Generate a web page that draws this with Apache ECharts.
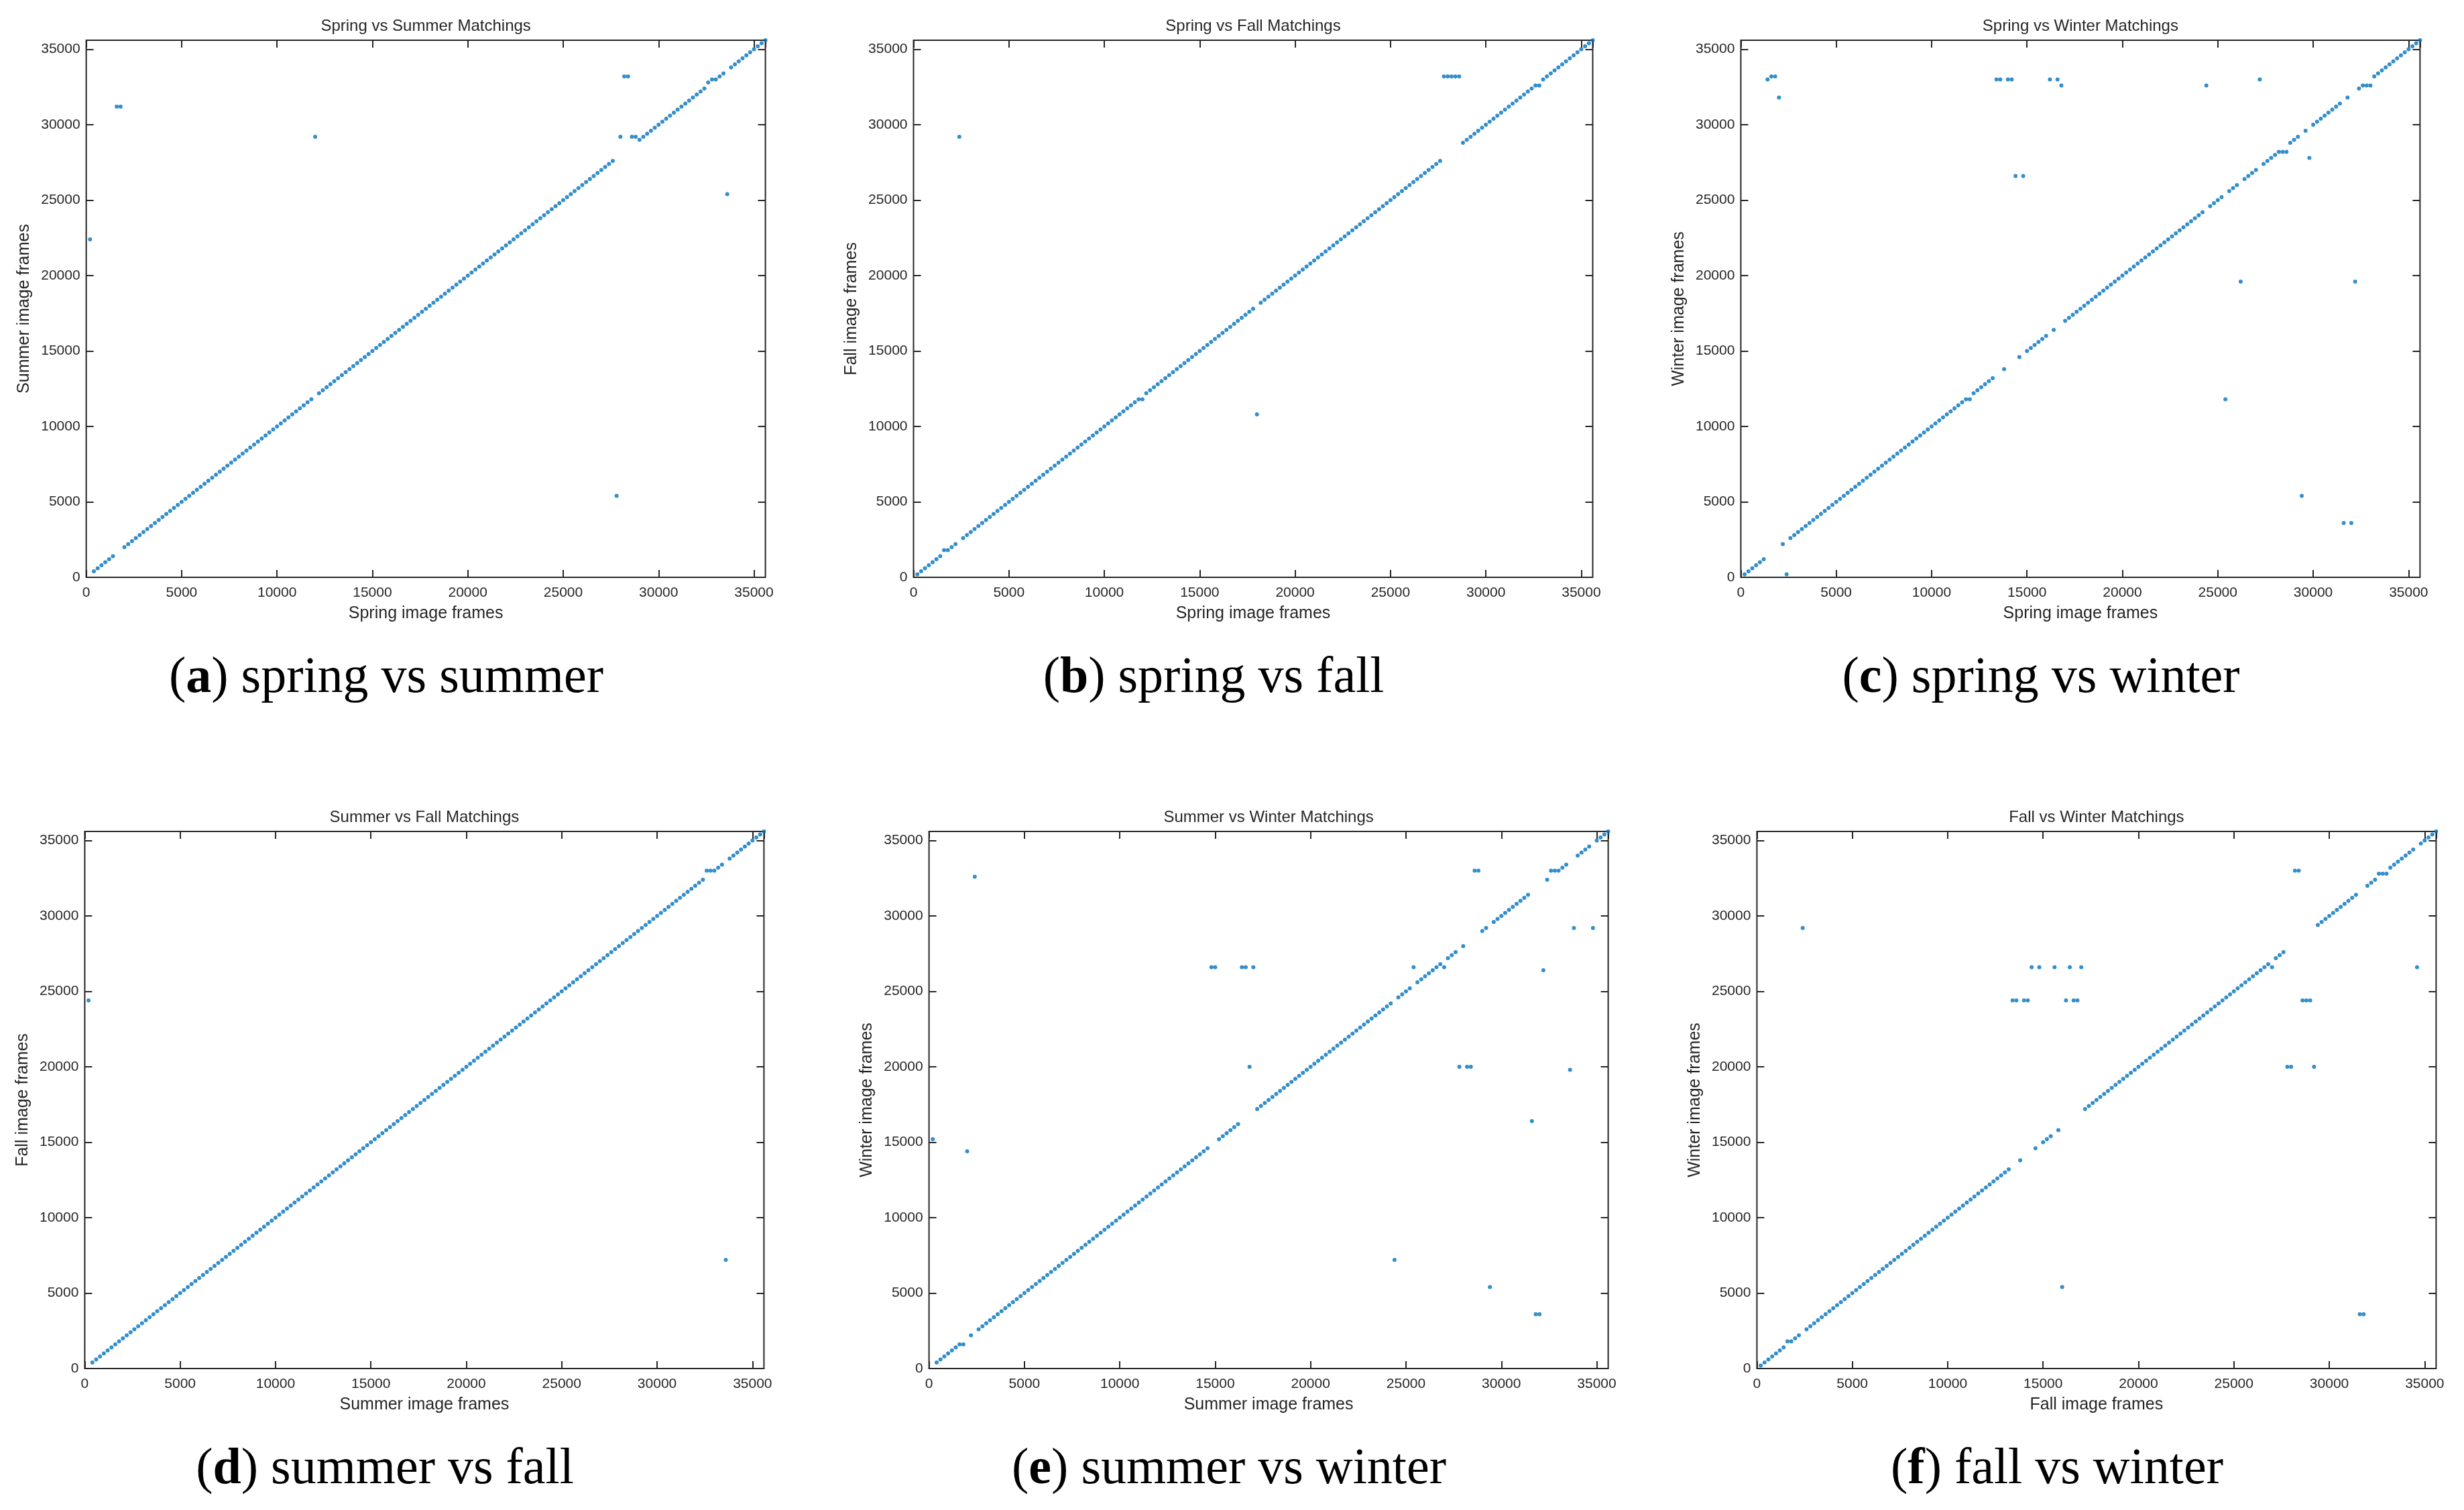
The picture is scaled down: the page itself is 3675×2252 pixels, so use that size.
<!DOCTYPE html>
<html>
<head>
<meta charset="utf-8">
<script src="https://cdn.jsdelivr.net/npm/echarts@6/dist/echarts.min.js"></script>
<style>
  html, body { margin: 0; padding: 0; background: #fff; }
  #chart { width: 3675px; height: 2252px; }
</style>
</head>
<body>
<div id="chart"></div>
<script>
// query frames (one match every 200 frames)
const frames = [
  200, 400, 600, 800, 1000, 1200, 1400, 1600, 1800, 2000,
  2200, 2400, 2600, 2800, 3000, 3200, 3400, 3600, 3800, 4000,
  4200, 4400, 4600, 4800, 5000, 5200, 5400, 5600, 5800, 6000,
  6200, 6400, 6600, 6800, 7000, 7200, 7400, 7600, 7800, 8000,
  8200, 8400, 8600, 8800, 9000, 9200, 9400, 9600, 9800, 10000,
  10200, 10400, 10600, 10800, 11000, 11200, 11400, 11600, 11800, 12000,
  12200, 12400, 12600, 12800, 13000, 13200, 13400, 13600, 13800, 14000,
  14200, 14400, 14600, 14800, 15000, 15200, 15400, 15600, 15800, 16000,
  16200, 16400, 16600, 16800, 17000, 17200, 17400, 17600, 17800, 18000,
  18200, 18400, 18600, 18800, 19000, 19200, 19400, 19600, 19800, 20000,
  20200, 20400, 20600, 20800, 21000, 21200, 21400, 21600, 21800, 22000,
  22200, 22400, 22600, 22800, 23000, 23200, 23400, 23600, 23800, 24000,
  24200, 24400, 24600, 24800, 25000, 25200, 25400, 25600, 25800, 26000,
  26200, 26400, 26600, 26800, 27000, 27200, 27400, 27600, 27800, 28000,
  28200, 28400, 28600, 28800, 29000, 29200, 29400, 29600, 29800, 30000,
  30200, 30400, 30600, 30800, 31000, 31200, 31400, 31600, 31800, 32000,
  32200, 32400, 32600, 32800, 33000, 33200, 33400, 33600, 33800, 34000,
  34200, 34400, 34600, 34800, 35000, 35200, 35400, 35600
]

// matched frame for each query frame
const springSummer = [
  22400, 400, 600, 800, 1000, 1200, 1400, 31200, 31200, 2000,
  2200, 2400, 2600, 2800, 3000, 3200, 3400, 3600, 3800, 4000,
  4200, 4400, 4600, 4800, 5000, 5200, 5400, 5600, 5800, 6000,
  6200, 6400, 6600, 6800, 7000, 7200, 7400, 7600, 7800, 8000,
  8200, 8400, 8600, 8800, 9000, 9200, 9400, 9600, 9800, 10000,
  10200, 10400, 10600, 10800, 11000, 11200, 11400, 11600, 11800, 29200,
  12200, 12400, 12600, 12800, 13000, 13200, 13400, 13600, 13800, 14000,
  14200, 14400, 14600, 14800, 15000, 15200, 15400, 15600, 15800, 16000,
  16200, 16400, 16600, 16800, 17000, 17200, 17400, 17600, 17800, 18000,
  18200, 18400, 18600, 18800, 19000, 19200, 19400, 19600, 19800, 20000,
  20200, 20400, 20600, 20800, 21000, 21200, 21400, 21600, 21800, 22000,
  22200, 22400, 22600, 22800, 23000, 23200, 23400, 23600, 23800, 24000,
  24200, 24400, 24600, 24800, 25000, 25200, 25400, 25600, 25800, 26000,
  26200, 26400, 26600, 26800, 27000, 27200, 27400, 27600, 5400, 29200,
  33200, 33200, 29200, 29200, 29000, 29200, 29400, 29600, 29800, 30000,
  30200, 30400, 30600, 30800, 31000, 31200, 31400, 31600, 31800, 32000,
  32200, 32400, 32800, 33000, 33000, 33200, 33400, 25400, 33800, 34000,
  34200, 34400, 34600, 34800, 35000, 35200, 35400, 35600
]

const springFall = [
  200, 400, 600, 800, 1000, 1200, 1400, 1800, 1800, 2000,
  2200, 29200, 2600, 2800, 3000, 3200, 3400, 3600, 3800, 4000,
  4200, 4400, 4600, 4800, 5000, 5200, 5400, 5600, 5800, 6000,
  6200, 6400, 6600, 6800, 7000, 7200, 7400, 7600, 7800, 8000,
  8200, 8400, 8600, 8800, 9000, 9200, 9400, 9600, 9800, 10000,
  10200, 10400, 10600, 10800, 11000, 11200, 11400, 11600, 11800, 11800,
  12200, 12400, 12600, 12800, 13000, 13200, 13400, 13600, 13800, 14000,
  14200, 14400, 14600, 14800, 15000, 15200, 15400, 15600, 15800, 16000,
  16200, 16400, 16600, 16800, 17000, 17200, 17400, 17600, 17800, 10800,
  18200, 18400, 18600, 18800, 19000, 19200, 19400, 19600, 19800, 20000,
  20200, 20400, 20600, 20800, 21000, 21200, 21400, 21600, 21800, 22000,
  22200, 22400, 22600, 22800, 23000, 23200, 23400, 23600, 23800, 24000,
  24200, 24400, 24600, 24800, 25000, 25200, 25400, 25600, 25800, 26000,
  26200, 26400, 26600, 26800, 27000, 27200, 27400, 27600, 33200, 33200,
  33200, 33200, 33200, 28800, 29000, 29200, 29400, 29600, 29800, 30000,
  30200, 30400, 30600, 30800, 31000, 31200, 31400, 31600, 31800, 32000,
  32200, 32400, 32600, 32600, 33000, 33200, 33400, 33600, 33800, 34000,
  34200, 34400, 34600, 34800, 35000, 35200, 35400, 35600
]

const springWinter = [
  200, 400, 600, 800, 1000, 1200, 33000, 33200, 33200, 31800,
  2200, 200, 2600, 2800, 3000, 3200, 3400, 3600, 3800, 4000,
  4200, 4400, 4600, 4800, 5000, 5200, 5400, 5600, 5800, 6000,
  6200, 6400, 6600, 6800, 7000, 7200, 7400, 7600, 7800, 8000,
  8200, 8400, 8600, 8800, 9000, 9200, 9400, 9600, 9800, 10000,
  10200, 10400, 10600, 10800, 11000, 11200, 11400, 11600, 11800, 11800,
  12200, 12400, 12600, 12800, 13000, 13200, 33000, 33000, 13800, 33000,
  33000, 26600, 14600, 26600, 15000, 15200, 15400, 15600, 15800, 16000,
  33000, 16400, 33000, 32600, 17000, 17200, 17400, 17600, 17800, 18000,
  18200, 18400, 18600, 18800, 19000, 19200, 19400, 19600, 19800, 20000,
  20200, 20400, 20600, 20800, 21000, 21200, 21400, 21600, 21800, 22000,
  22200, 22400, 22600, 22800, 23000, 23200, 23400, 23600, 23800, 24000,
  24200, 32600, 24600, 24800, 25000, 25200, 11800, 25600, 25800, 26000,
  19600, 26400, 26600, 26800, 27000, 33000, 27400, 27600, 27800, 28000,
  28200, 28200, 28200, 28800, 29000, 29200, 5400, 29600, 27800, 30000,
  30200, 30400, 30600, 30800, 31000, 31200, 31400, 3600, 31800, 3600,
  19600, 32400, 32600, 32600, 32600, 33200, 33400, 33600, 33800, 34000,
  34200, 34400, 34600, 34800, 35000, 35200, 35400, 35600
]

const summerFall = [
  24400, 400, 600, 800, 1000, 1200, 1400, 1600, 1800, 2000,
  2200, 2400, 2600, 2800, 3000, 3200, 3400, 3600, 3800, 4000,
  4200, 4400, 4600, 4800, 5000, 5200, 5400, 5600, 5800, 6000,
  6200, 6400, 6600, 6800, 7000, 7200, 7400, 7600, 7800, 8000,
  8200, 8400, 8600, 8800, 9000, 9200, 9400, 9600, 9800, 10000,
  10200, 10400, 10600, 10800, 11000, 11200, 11400, 11600, 11800, 12000,
  12200, 12400, 12600, 12800, 13000, 13200, 13400, 13600, 13800, 14000,
  14200, 14400, 14600, 14800, 15000, 15200, 15400, 15600, 15800, 16000,
  16200, 16400, 16600, 16800, 17000, 17200, 17400, 17600, 17800, 18000,
  18200, 18400, 18600, 18800, 19000, 19200, 19400, 19600, 19800, 20000,
  20200, 20400, 20600, 20800, 21000, 21200, 21400, 21600, 21800, 22000,
  22200, 22400, 22600, 22800, 23000, 23200, 23400, 23600, 23800, 24000,
  24200, 24400, 24600, 24800, 25000, 25200, 25400, 25600, 25800, 26000,
  26200, 26400, 26600, 26800, 27000, 27200, 27400, 27600, 27800, 28000,
  28200, 28400, 28600, 28800, 29000, 29200, 29400, 29600, 29800, 30000,
  30200, 30400, 30600, 30800, 31000, 31200, 31400, 31600, 31800, 32000,
  32200, 32400, 33000, 33000, 33000, 33200, 33400, 7200, 33800, 34000,
  34200, 34400, 34600, 34800, 35000, 35200, 35400, 35600
]

const summerWinter = [
  15200, 400, 600, 800, 1000, 1200, 1400, 1600, 1600, 14400,
  2200, 32600, 2600, 2800, 3000, 3200, 3400, 3600, 3800, 4000,
  4200, 4400, 4600, 4800, 5000, 5200, 5400, 5600, 5800, 6000,
  6200, 6400, 6600, 6800, 7000, 7200, 7400, 7600, 7800, 8000,
  8200, 8400, 8600, 8800, 9000, 9200, 9400, 9600, 9800, 10000,
  10200, 10400, 10600, 10800, 11000, 11200, 11400, 11600, 11800, 12000,
  12200, 12400, 12600, 12800, 13000, 13200, 13400, 13600, 13800, 14000,
  14200, 14400, 14600, 26600, 26600, 15200, 15400, 15600, 15800, 16000,
  16200, 26600, 26600, 20000, 26600, 17200, 17400, 17600, 17800, 18000,
  18200, 18400, 18600, 18800, 19000, 19200, 19400, 19600, 19800, 20000,
  20200, 20400, 20600, 20800, 21000, 21200, 21400, 21600, 21800, 22000,
  22200, 22400, 22600, 22800, 23000, 23200, 23400, 23600, 23800, 24000,
  24200, 7200, 24600, 24800, 25000, 25200, 26600, 25600, 25800, 26000,
  26200, 26400, 26600, 26800, 26600, 27200, 27400, 27600, 20000, 28000,
  20000, 20000, 33000, 33000, 29000, 29200, 5400, 29600, 29800, 30000,
  30200, 30400, 30600, 30800, 31000, 31200, 31400, 16400, 3600, 3600,
  26400, 32400, 33000, 33000, 33000, 33200, 33400, 19800, 29200, 34000,
  34200, 34400, 34600, 29200, 35000, 35200, 35400, 35600
]

const fallWinter = [
  200, 400, 600, 800, 1000, 1200, 1400, 1800, 1800, 2000,
  2200, 29200, 2600, 2800, 3000, 3200, 3400, 3600, 3800, 4000,
  4200, 4400, 4600, 4800, 5000, 5200, 5400, 5600, 5800, 6000,
  6200, 6400, 6600, 6800, 7000, 7200, 7400, 7600, 7800, 8000,
  8200, 8400, 8600, 8800, 9000, 9200, 9400, 9600, 9800, 10000,
  10200, 10400, 10600, 10800, 11000, 11200, 11400, 11600, 11800, 12000,
  12200, 12400, 12600, 12800, 13000, 13200, 24400, 24400, 13800, 24400,
  24400, 26600, 14600, 26600, 15000, 15200, 15400, 26600, 15800, 5400,
  24400, 26600, 24400, 24400, 26600, 17200, 17400, 17600, 17800, 18000,
  18200, 18400, 18600, 18800, 19000, 19200, 19400, 19600, 19800, 20000,
  20200, 20400, 20600, 20800, 21000, 21200, 21400, 21600, 21800, 22000,
  22200, 22400, 22600, 22800, 23000, 23200, 23400, 23600, 23800, 24000,
  24200, 24400, 24600, 24800, 25000, 25200, 25400, 25600, 25800, 26000,
  26200, 26400, 26600, 26800, 26600, 27200, 27400, 27600, 20000, 20000,
  33000, 33000, 24400, 24400, 24400, 20000, 29400, 29600, 29800, 30000,
  30200, 30400, 30600, 30800, 31000, 31200, 31400, 3600, 3600, 32000,
  32200, 32400, 32800, 32800, 32800, 33200, 33400, 33600, 33800, 34000,
  34200, 34400, 26600, 34800, 35000, 35200, 35400, 35600
]

const matches = [springSummer, springFall, springWinter, summerFall, summerWinter, fallWinter]
const panelTitles = ['Spring vs Summer Matchings', 'Spring vs Fall Matchings', 'Spring vs Winter Matchings',
  'Summer vs Fall Matchings', 'Summer vs Winter Matchings', 'Fall vs Winter Matchings']
const xNames = ['Spring image frames', 'Spring image frames', 'Spring image frames',
  'Summer image frames', 'Summer image frames', 'Fall image frames']
const yNames = ['Summer image frames', 'Fall image frames', 'Winter image frames',
  'Fall image frames', 'Winter image frames', 'Winter image frames']
const captionLetters = ['a', 'b', 'c', 'd', 'e', 'f']
const captionTexts = ['spring vs summer', 'spring vs fall', 'spring vs winter',
  'summer vs fall', 'summer vs winter', 'fall vs winter']
const axisMax = 35600
const tickStep = 5000

// layout (px)
const panelPos = [[128.6, 60], [1362.5, 60], [2596.4, 60], [126.4, 1240], [1385.6, 1240], [2620.4, 1240]]
const panelW = 1013, panelH = 801
const captionPos = [[576, 1012], [1810, 1012], [3044, 1012], [574, 2192], [1833, 2192], [3068, 2192]]

const ink = '#262626'
const sans = 'Liberation Sans, Arial, sans-serif'
const serif = 'Liberation Serif, Times New Roman, serif'

const chart = echarts.init(document.getElementById('chart'))

const grid = [], xAxis = [], yAxis = [], series = [], graphic = []
const tickFmt = v => (v % tickStep === 0 ? String(v) : '')

panelPos.forEach(([l, t], i) => {
  grid.push({ left: l, top: t, width: panelW, height: panelH, show: true,
    borderColor: ink, borderWidth: 2, backgroundColor: '#fff' })
  // ticks point inward on all four sides, like a boxed matlab axes
  const common = { type: 'value', gridIndex: i, min: 0, max: axisMax, interval: tickStep,
    splitLine: { show: false }, axisLine: { show: false, onZero: false },
    axisTick: { inside: true, length: 11, lineStyle: { color: ink, width: 2 } } }
  xAxis.push(Object.assign({}, common, {
    position: 'bottom', name: xNames[i], nameLocation: 'middle', nameGap: 42,
    nameTextStyle: { color: ink, fontFamily: sans, fontSize: 25 },
    axisLabel: { color: ink, fontFamily: sans, fontSize: 21, margin: 13, formatter: tickFmt, showMaxLabel: false }
  }))
  xAxis.push(Object.assign({}, common, { position: 'top', axisLabel: { show: false } }))
  yAxis.push(Object.assign({}, common, {
    position: 'left', name: yNames[i], nameLocation: 'middle', nameGap: 80,
    nameTextStyle: { color: ink, fontFamily: sans, fontSize: 25 },
    axisLabel: { color: ink, fontFamily: sans, fontSize: 21, margin: 9, formatter: tickFmt, showMaxLabel: false }
  }))
  yAxis.push(Object.assign({}, common, { position: 'right', axisLabel: { show: false } }))

  series.push({
    type: 'scatter', xAxisIndex: 2 * i, yAxisIndex: 2 * i,
    symbol: 'circle', symbolSize: 6,
    itemStyle: { color: '#0072BD' },
    data: frames.map((f, k) => [f, matches[i][k]]),
    silent: true
  })

  graphic.push({
    type: 'text', x: l + panelW / 2, y: t - 21,
    style: { text: panelTitles[i], fill: ink, font: '24px ' + sans, textAlign: 'center', textVerticalAlign: 'middle' }
  })
  graphic.push({
    type: 'text', x: captionPos[i][0], y: captionPos[i][1],
    style: {
      text: '({b|' + captionLetters[i] + '}) ' + captionTexts[i],
      fill: '#000', fontFamily: serif, fontSize: 76,
      textAlign: 'center', textVerticalAlign: 'middle',
      rich: { b: { fontFamily: serif, fontSize: 76, fontWeight: 'bold', fill: '#000' } }
    }
  })
})

chart.setOption({
  animation: false,
  backgroundColor: '#fff',
  grid, xAxis, yAxis, series, graphic
})
window.addEventListener('resize', () => chart.resize())
</script>
</body>
</html>
